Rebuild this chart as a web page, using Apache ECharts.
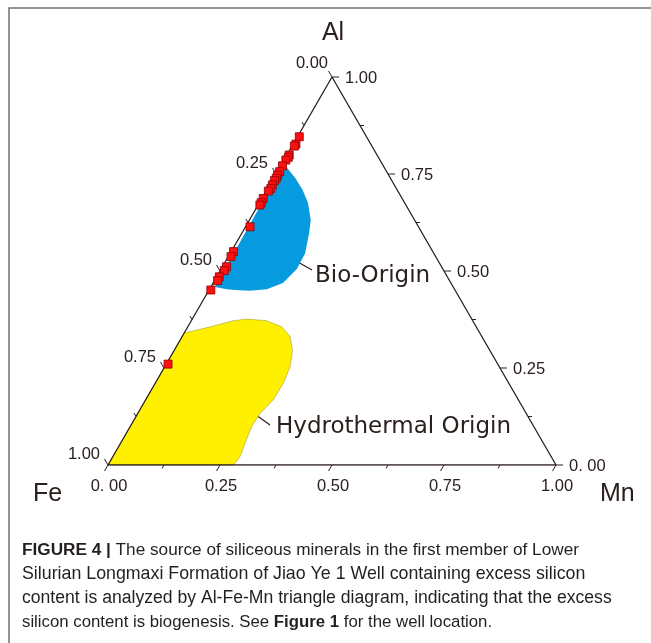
<!DOCTYPE html>
<html>
<head>
<meta charset="utf-8">
<title>Al-Fe-Mn ternary diagram</title>
<script src="https://cdn.jsdelivr.net/npm/echarts@6/dist/echarts.min.js"></script>
<style>
  html, body { margin: 0; padding: 0; background: #fff; }
  #chart { width: 651px; height: 643px; }
</style>
</head>
<body>
<div id="chart"></div>
<script>
// samples: Al and Mn fractions (Fe = 1 - Al - Mn)
const sampleAl = [0.846, 0.827, 0.822, 0.799, 0.793, 0.786, 0.771, 0.756, 0.747, 0.739, 0.733, 0.722, 0.713,
  0.706, 0.687, 0.676, 0.670, 0.614, 0.550, 0.537, 0.511, 0.501, 0.485, 0.475, 0.451, 0.260];
const sampleMn = [0.004, 0.006, 0.005, 0.005, 0.006, 0.004, 0.004, 0.005, 0.005, 0.006, 0.005, 0.006, 0.007,
  0.005, 0.003, 0.004, 0.004, 0.010, 0.005, 0.006, 0.009, 0.009, 0.006, 0.007, 0.004, 0.004];

// outline of the Bio-Origin field
const bioAl = [0.768, 0.740, 0.709, 0.675, 0.631, 0.598, 0.546, 0.505, 0.469, 0.453, 0.449, 0.451, 0.453, 0.459, 0.670];
const bioMn = [0.014, 0.048, 0.080, 0.109, 0.137, 0.150, 0.167, 0.169, 0.156, 0.128, 0.092, 0.058, 0.039, 0.009, 0.006];

// outline of the Hydrothermal Origin field
const hydroAl = [0.340, 0.356, 0.372, 0.376, 0.372, 0.356, 0.331, 0.296, 0.253, 0.211, 0.168, 0.133, 0.099, 0.056, 0.021, 0, 0];
const hydroMn = [0, 0.050, 0.094, 0.122, 0.168, 0.210, 0.241, 0.264, 0.280, 0.286, 0.285, 0.273, 0.271, 0.278, 0.284, 0.280, 0];

const tickValues = [0, 0.125, 0.25, 0.375, 0.5, 0.625, 0.75, 0.875, 1];
const majorValues = [0, 0.25, 0.5, 0.75, 1];
const leftLabels = ['0.00', '0.25', '0.50', '0.75', '1.00'];     // Fe, apex -> Fe corner
const bottomLabels = ['0. 00', '0.25', '0.50', '0.75', '1.00'];  // Mn, Fe corner -> Mn corner
const rightLabels = ['0. 00', '0.25', '0.50', '0.75', '1.00'];   // Al, Mn corner -> apex

const captionLines = [
  ['{b|FIGURE 4 |}{n| The source of siliceous minerals in the first member of Lower}', 17.2],
  ['{n|Silurian Longmaxi Formation of Jiao Ye 1 Well containing excess silicon}', 17.8],
  ['{n|content is analyzed by Al-Fe-Mn triangle diagram, indicating that the excess}', 17.6],
  ['{n|silicon content is biogenesis. See }{b|Figure 1}{n| for the well location.}', 16.8]
];

const H = Math.sqrt(3) / 2;
// Fe at (0,0), Mn at (1,0), Al at the apex
const toXY = (al, mn) => [mn + al / 2, al * H];

const ink = '#2a201d';

// tick marks on the three sides
const ticks = [];
tickValues.forEach(v => {
  const len = majorValues.includes(v) ? 7 : 4;
  ticks.push({ xy: toXY(1 - v, 0), dir: [-0.5, -H], len });  // left side (Fe)
  ticks.push({ xy: toXY(0, v), dir: [-0.5, H], len });       // bottom (Mn)
  ticks.push({ xy: toXY(v, 1 - v), dir: [1, 0], len });      // right side (Al)
});

const labels = [];
majorValues.forEach((v, i) => {
  // the apex label sits a little higher in the original
  const apex = i === 0;
  labels.push({ xy: toXY(1 - v, 0), text: leftLabels[i], dx: apex ? -4 : -8, dy: apex ? -14 : -11, align: 'right' });
  labels.push({ xy: toXY(0, v), text: bottomLabels[i], dx: 1, dy: 21, align: 'center' });
  labels.push({ xy: toXY(v, 1 - v), text: rightLabels[i], dx: 13, dy: 1, align: 'left' });
});

const fieldSeries = (al, mn, style) => ({
  type: 'custom',
  coordinateSystem: 'cartesian2d',
  silent: true,
  z: 1,
  data: [[0, 0]],
  renderItem: (params, api) => ({
    type: 'polygon',
    shape: { points: al.map((a, i) => api.coord(toXY(a, mn[i]))) },
    style: style
  })
});

const chart = echarts.init(document.getElementById('chart'));

chart.setOption({
  animation: false,
  backgroundColor: '#fff',
  grid: { left: 108, top: 77, width: 448, height: 388 },
  xAxis: { type: 'value', min: 0, max: 1, show: false },
  yAxis: { type: 'value', min: 0, max: H, show: false },
  series: [
    fieldSeries(bioAl, bioMn, { fill: '#069ade' }),
    fieldSeries(hydroAl, hydroMn, { fill: '#fff000', stroke: '#a89f3c', lineWidth: 0.6 }),
    {
      // triangle frame
      type: 'line',
      silent: true,
      z: 3,
      showSymbol: false,
      data: [toXY(1, 0), toXY(0, 0), toXY(0, 1), toXY(1, 0)],
      lineStyle: { color: ink, width: 1.3 }
    },
    {
      type: 'custom',
      coordinateSystem: 'cartesian2d',
      silent: true,
      z: 3,
      data: ticks.map(t => t.xy),
      renderItem: (params, api) => {
        const t = ticks[params.dataIndex];
        const p = api.coord([api.value(0), api.value(1)]);
        return {
          type: 'line',
          shape: { x1: p[0], y1: p[1], x2: p[0] + t.dir[0] * t.len, y2: p[1] + t.dir[1] * t.len },
          style: { stroke: ink, lineWidth: 1 }
        };
      }
    },
    {
      type: 'custom',
      coordinateSystem: 'cartesian2d',
      silent: true,
      z: 3,
      data: labels.map(l => l.xy),
      renderItem: (params, api) => {
        const l = labels[params.dataIndex];
        const p = api.coord([api.value(0), api.value(1)]);
        return {
          type: 'text',
          x: p[0] + l.dx,
          y: p[1] + l.dy,
          style: {
            text: l.text, align: l.align, verticalAlign: 'middle',
            font: '16.5px "Liberation Sans", Arial, sans-serif', fill: ink
          }
        };
      }
    },
    {
      type: 'scatter',
      z: 5,
      symbol: 'rect',
      symbolSize: 8,
      data: sampleAl.map((a, i) => toXY(a, sampleMn[i])),
      itemStyle: { color: '#ff1010', borderColor: '#8f0000', borderWidth: 0.8, opacity: 1 }
    }
  ],
  graphic: [
    // figure frame
    { type: 'rect', shape: { x: 9, y: 8, width: 700, height: 700 }, style: { fill: 'none', stroke: '#707070', lineWidth: 1.5 } },
    // corner titles
    { type: 'text', x: 333, y: 33, style: { text: 'Al', font: '25px "Liberation Sans", Arial', fill: ink, align: 'center', verticalAlign: 'middle' } },
    { type: 'text', x: 33, y: 494, style: { text: 'Fe', font: '25px "Liberation Sans", Arial', fill: ink, align: 'left', verticalAlign: 'middle' } },
    { type: 'text', x: 600, y: 494, style: { text: 'Mn', font: '25px "Liberation Sans", Arial', fill: ink, align: 'left', verticalAlign: 'middle' } },
    // field labels with leaders
    { type: 'line', shape: { x1: 282, y1: 253, x2: 312, y2: 270 }, style: { stroke: ink, lineWidth: 1.2 } },
    { type: 'text', x: 315, y: 276, style: { text: 'Bio-Origin', font: '23px "DejaVu Sans"', fill: ink, verticalAlign: 'middle' } },
    { type: 'line', shape: { x1: 245, y1: 407, x2: 270, y2: 425 }, style: { stroke: ink, lineWidth: 1.2 } },
    { type: 'text', x: 276, y: 427, style: { text: 'Hydrothermal Origin', font: '23px "DejaVu Sans"', fill: ink, verticalAlign: 'middle' } }
  ].concat(captionLines.map(([text, size], i) => ({
    type: 'text', x: 22, y: 550 + i * 24,
    style: {
      text: text,
      verticalAlign: 'middle',
      rich: {
        b: { font: 'bold ' + size + 'px "Liberation Sans", Arial', fill: '#231f20' },
        n: { font: size + 'px "Liberation Sans", Arial', fill: '#231f20' }
      }
    }
  })))
});
</script>
</body>
</html>
